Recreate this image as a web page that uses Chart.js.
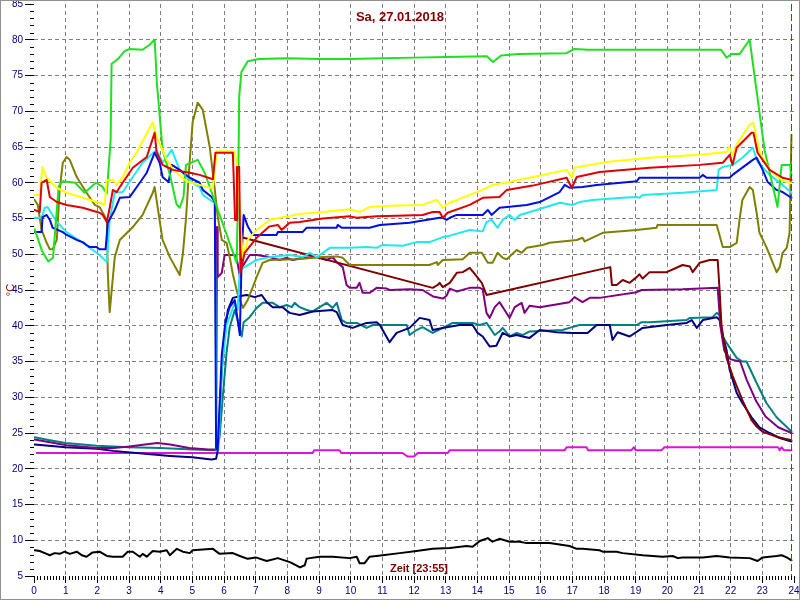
<!DOCTYPE html>
<html>
<head>
<meta charset="utf-8">
<script src="https://cdn.jsdelivr.net/npm/chart.js@4.4.1/dist/chart.umd.min.js"></script>
<style>
html,body{margin:0;padding:0;background:#fff;}
canvas{display:block;}
</style>
</head>
<body>
<canvas id="c" width="800" height="600"></canvas>
<script>
// ---- Texts ----
const titleText = 'Sa, 27.01.2018';
const xAxisText = 'Zeit [23:55]';
const yAxisText = '°C';
const currentTime = 23.917; // 23:55

// ---- Axis ranges / tick steps ----
const xMin = 0, xMax = 24, xStep = 1, xMinorStep = 0.1;
const yMin = 5, yMax = 85, yStep = 5, yMinorStep = 1;

// ---- Series: [hour, °C] ----
const green = [[0.02,53.5],[0.25,50.5],[0.45,49],[0.6,49.5],[0.78,59.5],[0.9,60.2],[1.3,60],[1.6,58.6],[1.95,60],[2.15,59.5],[2.3,58.5],[2.42,66],[2.45,76.6],[2.65,77.3],[2.86,78.4],[3.02,78.7],[3.43,78.6],[3.65,79.3],[3.81,80],[3.88,74],[4.06,64.6],[4.3,61],[4.5,57],[4.6,56.5],[4.72,58],[4.8,62.5],[5.17,63.2],[5.39,61.4],[6.4,48.8],[6.45,60],[6.48,72],[6.55,75.5],[6.75,77],[7.1,77.3],[8,77.4],[9,77.3],[10,77.3],[11,77.4],[12,77.5],[13,77.6],[14.3,77.7],[14.5,76.9],[14.75,77.8],[15.3,78],[16.8,78.1],[17.05,78.7],[17.5,78.6],[21.7,78.6],[21.87,77.5],[22.03,78],[22.28,78],[22.6,80],[23.07,64.6],[23.48,56.6],[23.61,62.5],[23.88,62.5],[23.92,61]];
const yellow = [[0.02,58.3],[0.18,58.3],[0.27,62.2],[0.4,60.7],[0.72,59.3],[1.03,58.6],[1.54,57.9],[2.07,57.2],[2.23,56.9],[2.3,60.4],[2.49,60.4],[2.61,59.7],[2.8,60.7],[3.02,62.8],[3.24,64.2],[3.75,68.5],[3.87,66.5],[4.19,63.2],[4.38,62],[4.6,61],[4.82,60.2],[5.23,59.7],[5.55,59.3],[5.65,59.3],[5.77,64.4],[6.34,64.4],[6.42,62],[6.59,49.5],[6.75,52],[7.03,53.4],[7.44,54.8],[7.76,55.1],[8.07,55.3],[8.3,55.6],[9.12,55.9],[9.97,56.3],[10.28,55.9],[10.6,56.6],[11.23,56.8],[12.27,56.9],[12.72,57.6],[12.91,56.5],[13.13,57.2],[13.76,58.3],[14.17,59],[14.48,59.7],[15.02,60.1],[15.75,60.8],[16.82,61.8],[16.98,60.7],[17.07,62.1],[18.08,62.9],[19.44,63.5],[21.02,63.9],[21.87,64.3],[21.96,65],[22.06,63.9],[22.22,65.6],[22.6,68.1],[22.72,68.4],[22.91,64.3],[23.23,61.8],[23.64,60.3],[23.92,59.9]];
const red = [[0.02,56.2],[0.18,55.9],[0.24,60],[0.4,60.4],[0.5,58],[0.72,57.3],[1.03,56.9],[1.54,56.5],[2.07,55.8],[2.17,55.5],[2.3,54.5],[2.39,56.5],[2.49,59],[2.61,58.7],[2.71,59.4],[3.12,62.1],[3.56,63.6],[3.81,67],[3.87,64.3],[4.06,62.5],[4.38,61.8],[4.92,61.4],[5.23,61.1],[5.65,60.5],[5.73,64.2],[6.28,64.2],[6.35,54.8],[6.38,54.8],[6.41,62.2],[6.48,62.2],[6.52,47.4],[6.65,50.2],[7.03,52.3],[7.44,53.9],[7.7,54.1],[7.82,53.4],[8.07,54.4],[8.39,54.5],[9.12,55],[9.97,55.3],[10.19,55.1],[10.82,55.3],[11.45,55.4],[12.27,55.5],[12.59,55.9],[12.81,55.9],[12.91,55.1],[13.06,55.8],[13.76,56.9],[14.17,57.9],[14.7,58],[14.93,59],[15.75,59.6],[16.82,60.7],[16.98,59.3],[17.14,60.8],[17.86,61.5],[19.44,62.1],[21.02,62.5],[21.75,62.8],[21.97,63.9],[22.06,62.5],[22.19,64.9],[22.66,67],[22.72,67],[22.85,64.2],[23.23,61.8],[23.64,60.7],[23.92,60.4]];
const blue = [[0.02,53.1],[0.24,53.1],[0.27,55.2],[0.4,55.5],[0.5,54.8],[0.59,53.7],[0.91,53.1],[1.03,52.7],[1.35,52],[1.54,51.7],[1.66,51.3],[1.76,51],[1.98,51],[2.07,50.7],[2.26,50.7],[2.33,54.4],[2.55,56.2],[2.71,57.9],[3.02,58],[3.34,60],[3.56,61.4],[3.81,64.2],[3.97,62.8],[4.06,60.8],[4.25,60.1],[4.35,62.5],[4.6,61.8],[4.92,60.7],[5.23,60],[5.33,59],[5.61,58],[5.71,57.3],[5.75,23],[5.8,22.5],[5.93,36],[6.05,40.8],[6.18,42.6],[6.34,43.6],[6.5,38.7],[6.56,50],[6.62,55.5],[6.75,53.9],[6.91,52.7],[7.66,52.7],[7.7,53.1],[8.48,53.1],[8.61,53.7],[9.56,53.7],[9.59,54.1],[9.72,53.7],[10.6,53.7],[10.92,54.1],[11.86,54.4],[12.81,55.1],[12.91,55.1],[13.03,54.8],[13.13,55.1],[13.35,55.5],[14.17,55.5],[14.33,56.2],[14.45,55.5],[14.7,56.5],[15.56,56.9],[15.97,57.3],[16.6,58.7],[16.76,59.7],[16.91,59.3],[17.32,59.4],[17.77,59.7],[19.03,60.2],[19.12,60.7],[21.02,60.7],[21.12,61.1],[21.24,60.7],[21.97,60.7],[22.06,61.1],[22.7,63.2],[22.82,63.5],[22.98,62.1],[23.17,60.1],[23.45,59],[23.64,58.7],[23.92,57.9]];
const cyan = [[0.02,55.1],[0.24,55.1],[0.34,56.5],[0.43,56.6],[0.72,54.5],[1.03,53.1],[1.54,51.6],[2.07,49.9],[2.3,48.9],[2.39,54.8],[2.55,58.6],[2.8,58.7],[3.12,60.8],[3.43,62.8],[3.87,64.6],[4.06,62.8],[4.35,64.6],[4.6,61.8],[4.98,60.1],[5.23,59.4],[5.33,58.3],[5.65,57.3],[5.71,57.3],[5.77,22.5],[5.82,22.6],[5.93,33.8],[6.08,40.1],[6.34,43.2],[6.43,42.2],[6.5,47.8],[6.65,48.2],[7.03,49.2],[7.44,49.6],[8.07,49.9],[8.48,49.6],[8.71,50.2],[8.93,49.6],[9.12,50.2],[9.34,50.9],[9.97,50.9],[10.5,51],[10.82,50.9],[11.01,51.3],[11.64,51.2],[12.08,51.7],[12.49,51.7],[12.91,52.4],[13.13,52.6],[13.76,53.4],[14.17,53.2],[14.29,54.5],[14.45,54.8],[14.64,53.7],[14.8,54.8],[15.02,55.5],[15.18,54.8],[15.34,55.5],[15.87,56.2],[16.6,57.2],[17.01,56.9],[17.23,57.3],[17.64,57.6],[18.59,57.9],[19.03,58],[19.12,57.9],[19.22,58.3],[20.48,58.6],[21.56,59],[21.62,61.8],[21.75,62.2],[22.06,62.5],[22.37,63.5],[22.7,64.9],[22.85,62.9],[23.23,61.1],[23.64,59.7],[23.92,58.6]];
const olive = [[0.02,57.6],[0.12,56.9],[0.24,53.4],[0.4,51.6],[0.5,50.7],[0.59,50.7],[0.72,52],[0.81,59],[0.91,62.8],[1.03,63.6],[1.13,63.2],[1.35,60.8],[1.66,58.6],[1.92,56.9],[2.07,56.6],[2.3,54.8],[2.33,47.4],[2.39,41.9],[2.55,49.6],[2.71,52],[3.12,53.8],[3.43,55.5],[3.75,58.6],[3.81,59.4],[4.06,52],[4.29,49.6],[4.6,47.1],[4.7,50],[4.8,55],[4.9,62],[5.01,68.5],[5.17,71.2],[5.33,70.2],[5.55,65],[5.71,59],[5.8,55.3],[5.93,52],[6.08,51.6],[6.18,49.6],[6.28,47.2],[6.43,44.4],[6.6,42.5],[6.75,43.6],[7.03,46.8],[7.22,48.8],[7.44,49.2],[8.3,49.3],[9.12,49.6],[9.56,49.7],[9.75,49.5],[9.97,48.5],[12.49,48.5],[12.72,48.9],[12.75,48.5],[12.91,49.2],[13.54,49.3],[13.76,50.2],[14.14,50.2],[14.33,48.8],[14.48,48.8],[14.64,50.2],[14.8,49.5],[14.93,49.3],[15.24,50.6],[15.4,50.2],[15.56,50.9],[16.06,51.3],[16.28,51.6],[17.14,52],[17.32,52.3],[17.39,51.8],[17.96,53],[19.03,53.4],[19.66,53.7],[19.69,54.1],[21.56,54.1],[21.75,51],[21.97,51],[22.19,51.6],[22.28,54.8],[22.37,57.6],[22.6,59.4],[22.7,59],[22.82,55.8],[22.91,53],[23.13,51],[23.45,47.5],[23.55,48.2],[23.64,50.2],[23.77,50.9],[23.86,53],[23.92,66.7]];
const maroon = [[6.62,52.3],[12.59,45.3],[12.75,45.7],[12.81,46],[12.91,45.4],[13.13,46],[13.35,47.4],[13.54,47.5],[13.76,48.1],[13.91,47.3],[14.14,46],[14.29,44.3],[18.2,48.2],[18.25,45.7],[18.4,45.7],[18.59,46.4],[18.81,46],[19.03,46.8],[19.12,47.2],[19.22,46.6],[19.44,47.5],[19.98,47.5],[20.48,48.5],[20.71,48.3],[20.8,47.5],[21.02,48.8],[21.34,49.2],[21.59,49.2],[21.65,45],[21.71,40],[21.87,35.5],[22.06,33],[22.37,29.6],[22.66,26.8],[22.82,25.9],[23.0,25.2],[23.5,24.4],[23.92,24]];
const purple = [[0.02,24.1],[0.5,23.7],[1.03,23.3],[1.98,22.9],[2.5,22.9],[3.02,23.1],[3.5,23.4],[3.9,23.6],[4.3,23.4],[4.9,22.9],[5.5,22.7],[5.75,22.7],[5.78,53.8],[5.8,46.8],[5.93,47.4],[6.02,49.9],[6.34,49.9],[6.43,48.8],[6.5,46.8],[6.56,48.1],[6.81,49.9],[7.03,49.9],[7.44,49.6],[7.76,49.2],[7.98,49.5],[8.17,49.2],[8.48,49.5],[8.93,49.6],[9.24,49.2],[9.43,49.6],[9.56,48.9],[9.75,48.2],[9.87,45.7],[9.97,45.3],[10.19,45.3],[10.28,46],[10.38,44.6],[10.6,44.6],[10.82,45.3],[11.14,45.2],[11.23,45],[11.86,45.1],[12.27,45],[12.6,44.1],[12.91,43.8],[13.03,44.2],[13.13,45.2],[13.35,44.8],[13.76,45.3],[14.08,45.3],[14.17,45.1],[14.29,41.8],[14.39,41.1],[14.55,42.6],[14.7,43.3],[14.86,42.2],[15.02,41.1],[15.18,42.6],[15.4,43.2],[15.49,41.8],[15.65,42.8],[15.97,42.6],[16.91,43.3],[17.07,44],[17.32,43.3],[17.55,43.9],[17.86,43.9],[19.03,44.7],[19.19,45],[20.48,45.1],[21.59,45.3],[21.68,39.8],[21.8,36.5],[22.0,35.3],[22.3,35],[22.5,32.5],[22.8,29.5],[23.1,27.3],[23.5,25.8],[23.92,25]];
const navy = [[0.02,23.4],[1.0,23.0],[1.98,22.8],[2.5,22.5],[3.5,22.1],[4.3,21.8],[5.0,21.6],[5.6,21.3],[5.75,21.4],[5.8,22.5],[5.93,33.8],[6.02,38.5],[6.12,42.2],[6.28,43.9],[6.56,44.2],[6.72,44.3],[6.97,44],[7.19,44.3],[7.35,43.3],[7.54,42.6],[7.85,42.6],[8.07,41.8],[8.39,41.5],[8.8,42],[9.43,42.2],[9.56,41.9],[9.75,40.1],[10.06,39.7],[10.5,40.4],[10.82,40.5],[10.92,40.1],[11.01,39.4],[11.23,37.7],[11.45,39],[11.86,39.7],[12.18,41.1],[12.49,40.8],[12.59,39.4],[13.03,39.8],[13.44,40.1],[13.85,40.1],[14.01,39],[14.17,38.5],[14.39,37.1],[14.6,37.2],[14.8,39],[15.02,38.5],[15.24,38.7],[15.43,38.5],[15.65,38.3],[15.97,39.4],[16.5,39.1],[17.01,39],[17.48,39],[17.77,40.1],[18.18,40.1],[18.27,38],[18.43,39.1],[18.81,38.5],[19.22,39.7],[19.98,40.1],[20.61,40.4],[20.77,40.8],[20.93,39.7],[21.12,40.8],[21.56,41.2],[21.65,40.8],[21.75,38.5],[21.87,36.6],[21.97,33.8],[22.19,30.6],[22.37,29.2],[22.66,27.2],[22.91,25.8],[23.23,25],[23.55,24.3],[23.92,23.8]];
const teal = [[0.02,24.4],[0.5,24.0],[1.0,23.6],[1.98,23.2],[3.0,23.0],[4.0,22.9],[5.0,22.7],[5.77,22.6],[5.86,24.4],[5.96,30],[6.08,36.2],[6.18,39.8],[6.34,42.2],[6.43,40.8],[6.56,38.5],[6.62,40.5],[6.81,41.2],[7.03,42.5],[7.22,43.2],[7.54,43.2],[7.76,42.6],[7.98,42.9],[8.14,42.6],[8.23,43.2],[8.39,42.6],[8.61,42.2],[8.8,42],[9.02,42.6],[9.24,43.2],[9.43,42.5],[9.56,43.2],[9.72,40.8],[9.87,40.4],[10.19,40.4],[10.5,39.7],[10.7,40.1],[11.77,40.1],[11.86,38.7],[12.08,39.4],[12.27,39.8],[12.59,39],[12.91,39.7],[13.22,40.4],[13.85,40.4],[14.08,40.1],[14.29,40.4],[14.55,38.7],[14.7,39.2],[14.8,39.7],[15.02,38.5],[15.24,39],[15.43,38.7],[15.65,39.2],[16.69,39.4],[16.91,39.7],[17.23,40.1],[19.03,40.1],[19.19,40.5],[19.44,40.5],[20.61,40.8],[20.71,41.1],[21.43,41.2],[21.56,41.8],[21.65,41.5],[21.75,38.5],[21.87,37.6],[22.19,35.5],[22.37,35],[22.5,35],[22.82,32],[23.13,29.2],[23.45,27.2],[23.92,25.2]];
const magenta = [[0.09,22.2],[8.8,22.2],[8.85,22.6],[9.65,22.6],[9.7,22.2],[11.64,22.2],[11.8,21.7],[12.0,21.7],[12.12,22.2],[13.06,22.2],[13.13,22.6],[16.76,22.6],[16.82,23],[17.45,23],[17.5,22.6],[18.87,22.6],[18.94,23],[19.0,22.6],[19.82,22.6],[19.91,23],[23.5,23],[23.55,22.6],[23.61,23],[23.68,22.6],[23.92,22.6]];
const black = [[0.02,8.6],[0.18,8.5],[0.4,8.1],[0.5,7.9],[0.65,8.2],[0.81,8.1],[0.97,8.4],[1.13,8.1],[1.35,8.4],[1.51,7.9],[1.66,7.7],[1.85,8.3],[2.07,8.4],[2.3,7.8],[2.49,7.7],[2.61,7.7],[2.8,7.7],[2.96,8.4],[3.12,8.4],[3.34,7.7],[3.43,8.1],[3.56,7.7],[3.75,8.5],[3.97,8.4],[4.19,8.6],[4.29,7.9],[4.51,8.8],[4.7,8.4],[4.92,8.2],[5.01,8.6],[5.65,8.8],[5.86,8.1],[6.28,8.2],[6.5,7.8],[6.75,7.4],[7.0,7.6],[7.35,7.1],[7.7,7.5],[8.1,6.9],[8.4,6.2],[8.55,6.5],[8.61,7.4],[8.71,7.5],[9.02,7.7],[9.43,7.7],[9.97,7.5],[10.19,7.7],[10.28,6.8],[10.44,6.8],[10.6,7.7],[11.01,7.9],[11.55,8.2],[12.08,8.5],[12.59,8.8],[13.13,8.9],[13.66,9.2],[13.85,9.1],[14.08,9.9],[14.33,10.3],[14.48,9.8],[14.7,10.2],[15.02,9.8],[15.34,9.8],[15.56,9.6],[16.28,9.6],[16.91,9.2],[17.14,8.8],[17.32,8.8],[17.86,8.6],[17.96,8.4],[18.4,8.4],[18.59,8.2],[19.22,7.9],[19.85,7.7],[20.17,7.8],[20.33,7.5],[20.48,7.6],[21.12,7.6],[21.56,7.8],[21.97,7.6],[22.6,7.5],[22.85,7.1],[23.01,7.6],[23.45,7.8],[23.61,7.9],[23.77,7.6],[23.92,7.2]];

// ---- Colours (one per series) ----
const seriesList = [
  {data: red, color: '#e00000'},
  {data: yellow, color: '#ffff00'},
  {data: green, color: '#20e020'},
  {data: blue, color: '#0010e0'},
  {data: cyan, color: '#20e8f0'},
  {data: olive, color: '#808000'},
  {data: maroon, color: '#800000'},
  {data: purple, color: '#800080'},
  {data: navy, color: '#000080'},
  {data: teal, color: '#008080'},
  {data: magenta, color: '#e010e0'},
  {data: black, color: '#000000'}
];

const FONT = "'Liberation Sans', Arial, sans-serif";
const TEXT_RED = '#800000';
const AXIS_BLUE = '#000080';
const GRID_GRAY = '#808080';

const decorPlugin = {
  id: 'decor',
  beforeDatasetsDraw(chart) {
    // minor ticks
    const ctx = chart.ctx, xs = chart.scales.x, ys = chart.scales.y;
    const ca = chart.chartArea;
    ctx.save();
    ctx.strokeStyle = '#000';
    ctx.lineWidth = 1;
    ctx.beginPath();
    for (let v = yMin; v <= yMax + 1e-6; v += yMinorStep) {
      if (Math.abs(v / yStep - Math.round(v / yStep)) < 1e-6) continue;
      const y = Math.round(ys.getPixelForValue(v)) + 0.5;
      ctx.moveTo(ca.left - 4, y); ctx.lineTo(ca.left, y);
    }
    for (let i = 0; i <= (xMax - xMin) / xMinorStep + 1e-6; i++) {
      const v = xMin + i * xMinorStep;
      if (i % 10 === 0) continue;
      const x = Math.round(xs.getPixelForValue(v)) + 0.5;
      ctx.moveTo(x, ca.bottom); ctx.lineTo(x, ca.bottom + 4);
    }
    ctx.stroke();
    ctx.restore();
  },
  afterDatasetsDraw(chart) {
    const ctx = chart.ctx, xs = chart.scales.x;
    const ca = chart.chartArea;
    // current time marker
    ctx.save();
    const x = Math.round(xs.getPixelForValue(currentTime)) + 0.5;
    ctx.strokeStyle = '#008000';
    ctx.lineWidth = 1;
    ctx.setLineDash([7, 3]);
    ctx.beginPath();
    ctx.moveTo(x, ca.top); ctx.lineTo(x, ca.bottom);
    ctx.stroke();
    ctx.restore();
  },
  afterDraw(chart) {
    const ctx = chart.ctx;
    ctx.save();
    ctx.fillStyle = TEXT_RED;
    ctx.textAlign = 'center';
    ctx.textBaseline = 'middle';
    ctx.font = 'bold 13px ' + FONT;
    ctx.fillText(titleText, 400, 17);
    ctx.font = 'bold 11px ' + FONT;
    ctx.fillText(xAxisText, 419, 569);
    ctx.translate(11, 290);
    ctx.rotate(-Math.PI / 2);
    ctx.font = '11px ' + FONT;
    ctx.fillText(yAxisText, 0, 0);
    ctx.restore();
    // frame
    ctx.save();
    ctx.strokeStyle = '#909090';
    ctx.lineWidth = 1;
    ctx.strokeRect(0.5, 0.5, 799, 599);
    ctx.restore();
  }
};

new Chart(document.getElementById('c'), {
  type: 'line',
  data: {
    datasets: seriesList.map(s => ({
      data: s.data.map(p => ({x: p[0], y: p[1]})),
      borderColor: s.color,
      backgroundColor: s.color,
      borderWidth: 2,
      pointRadius: 0,
      tension: 0,
      fill: false,
      borderJoinStyle: 'round',
      borderCapStyle: 'round'
    }))
  },
  options: {
    responsive: false,
    animation: false,
    devicePixelRatio: 1,
    layout: {padding: {top: 4, right: 6, left: 0, bottom: 0}},
    plugins: {legend: {display: false}, tooltip: {enabled: false}, title: {display: false}},
    scales: {
      x: {
        type: 'linear', min: xMin, max: xMax,
        border: {display: false, dash: [4, 3]},
        grid: {
          color: c => (c.tick && (c.tick.value === xMin || c.tick.value === xMax)) ? 'rgba(0,0,0,0)' : GRID_GRAY,
          tickColor: '#000', tickLength: 7, tickBorderDash: [0, 0]
        },
        ticks: {stepSize: xStep, autoSkip: false, maxRotation: 0, color: AXIS_BLUE, padding: 2,
          font: {family: FONT, size: 10}},
        afterFit: s => { s.height = 24; s.paddingLeft = 0; s.paddingRight = 0; }
      },
      y: {
        type: 'linear', min: yMin, max: yMax,
        border: {display: false, dash: [4, 3]},
        grid: {
          color: c => (c.tick && (c.tick.value === yMin || c.tick.value === yMax)) ? 'rgba(0,0,0,0)' : GRID_GRAY,
          tickColor: '#000', tickLength: 9, tickBorderDash: [0, 0]
        },
        ticks: {stepSize: yStep, color: AXIS_BLUE, padding: 2, font: {family: FONT, size: 10}},
        afterFit: s => { s.width = 34; s.paddingTop = 0; s.paddingBottom = 0; }
      }
    }
  },
  plugins: [decorPlugin]
});
</script>
</body>
</html>
